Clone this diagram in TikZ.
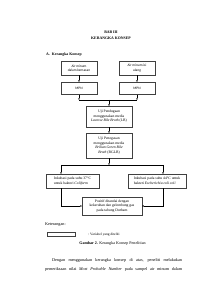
\documentclass[tikz,border=0pt]{standalone}
\usepackage{fontspec}
\setmainfont{Liberation Serif}
\newfontfamily\calib{Carlito}
\usetikzlibrary{arrows.meta}
\tikzset{
  box/.style={draw=black!75, line width=0.6pt, align=center, inner sep=1pt, font=\fontsize{10.5}{13}\selectfont},
  cbox/.style={box, font=\calib\fontsize{10}{12}\selectfont},
  arr/.style={line width=0.8pt, -{Triangle[length=1.6mm,width=1.4mm]}},
  ln/.style={line width=0.8pt},
  txt/.style={inner sep=0pt, font=\fontsize{12}{14}\selectfont},
}
\begin{document}
\begin{tikzpicture}[x=1mm,y=1mm]
\useasboundingbox (0,0) rectangle (212,300);
\fill[white] (0,0) rectangle (212,300);
% titles
\node[txt, font=\bfseries\fontsize{11}{13}\selectfont] (t1) at (111,268) {BAB III};
\node[txt, font=\bfseries\fontsize{11}{13}\selectfont] (t2) at (111,262) {KERANGKA KONSEP};
\node[txt, font=\bfseries\fontsize{11}{13}\selectfont, anchor=west] (t3) at (46,245.7) {A.\hspace{2mm}Kerangka Konsep};
% boxes
\node[cbox, minimum width=36mm, minimum height=14mm] (b1) at (79,232) {Air minum\\dalam kemasan};
\node[cbox, minimum width=36mm, minimum height=14mm] (b2) at (137,232) {Air minum isi\\ulang};
\node[cbox, minimum width=36mm, minimum height=12.5mm] (m1) at (79,211.7) {MPN};
\node[cbox, minimum width=36mm, minimum height=12.5mm] (m2) at (137,211.7) {MPN};
\node[box, minimum width=46mm, minimum height=21mm] (b3) at (109,183.5) {Uji Pendugaan\\menggunakan media\\\textit{Lactose Bile Broth} (LB)};
\node[box, minimum width=46mm, minimum height=25mm] (b4) at (109,154.5) {Uji Penegasan\\menggunakan media\\\textit{Brilian Green Bile}\\\textit{Broth} (BGLB)};
\node[box, minimum width=53mm, minimum height=14mm, align=left] (b5) at (72.5,119) {Inkubasi pada suhu 37°C\\untuk bakteri \textit{Coliform}};
\node[box, minimum width=58mm, minimum height=14mm, align=left] (b6) at (157,119) {Inkubasi pada suhu 44°C untuk\\bakteri \textit{Escherichia coli coli}};
\node[box, minimum width=60mm, minimum height=18mm] (b7) at (112,94) {Positif ditandai dengan\\kekeruhan dan gelembung gas\\pada tabung Durham};
% connector coordinates
\coordinate (j1) at (79,200);
\coordinate (j2) at (137,200);
\coordinate (jc) at (109,200);
\coordinate (k1) at (61,135);
\coordinate (k2) at (163,135);
\coordinate (kc) at (109,135);
% connectors
\draw[arr] (b1) -- (m1);
\draw[arr] (b2) -- (m2);
\draw[arr] (m1.south) -- (j1);
\draw[arr] (m2.south) -- (j2);
\draw[ln] (j1) -- (j2);
\draw[arr] (jc) -- (b3.north);
\draw[arr] (b3) -- (b4);
\draw[arr] (b4.south) -- (kc);
\draw[ln] (k1) -- (k2);
\draw[arr] (k1) -- (k1 |- b5.north);
\draw[arr] (k2) -- (k2 |- b6.north);
\draw[arr] (k1 |- b5.south) |- (b7.west);
\draw[arr] (k2 |- b6.south) |- (b7.east);
% legend
\node[txt, anchor=west] (kt) at (45,75) {Keterangan:};
\node[draw=black!75, line width=0.6pt, minimum width=28mm, minimum height=4mm, inner sep=0pt] (lg) at (61,66) {};
\node[txt, anchor=west, font=\fontsize{10}{12}\selectfont] (lt) at (88,65.5) {: Variabel yang diteliti};
\node[txt, font=\fontsize{11.5}{13}\selectfont] (cap) at (112.5,56) {\textbf{Gambar 2.} Kerangka Konsep Penelitian};
% paragraph
\node[txt, anchor=west] (p1) at (52,40) {\makebox[130mm][s]{Dengan menggunakan kerangka konsep di atas, peneliti melakukan}};
\node[txt, anchor=west] (p2) at (45,31) {\makebox[137mm][s]{pemeriksaan nilai \textit{Most Probable Number} pada sampel air minum dalam}};
\end{tikzpicture}
\end{document}
